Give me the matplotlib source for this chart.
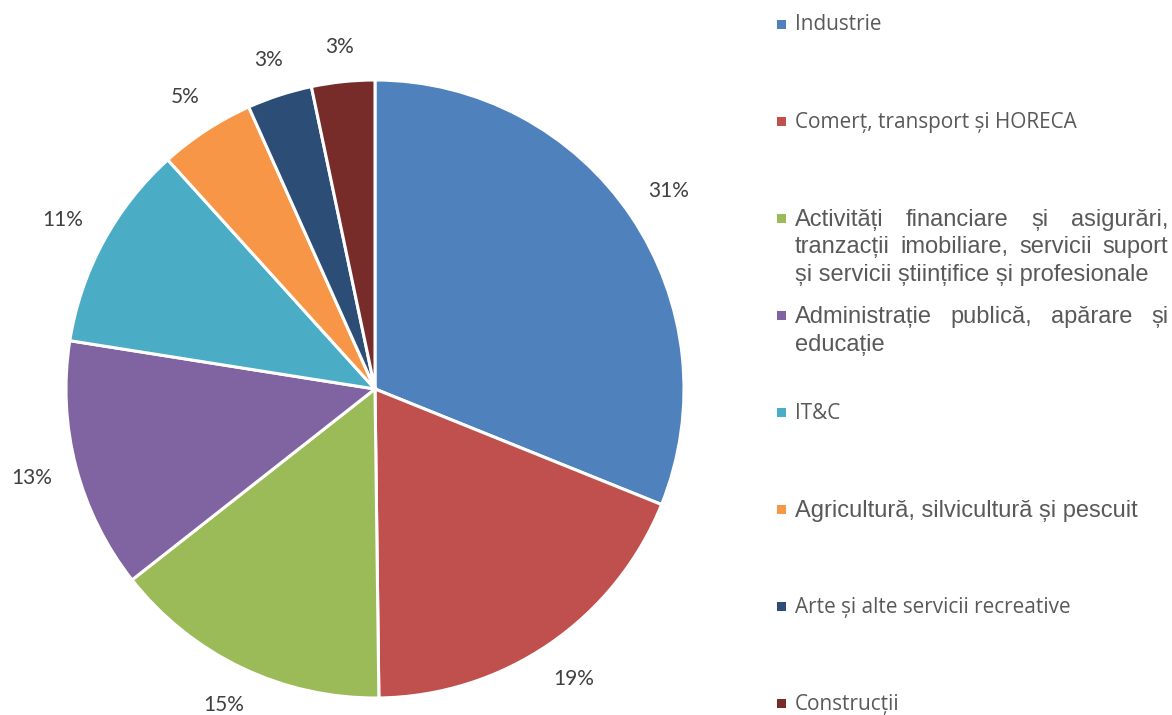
import matplotlib
matplotlib.use("Agg")
import matplotlib.pyplot as plt
from matplotlib.patches import Rectangle
import numpy as np

categories = [
    "Industrie",
    "Comerț, transport și HORECA",
    "Activități financiare și asigurări, tranzacții imobiliare, servicii suport și servicii științifice și profesionale",
    "Administrație publică, apărare și educație",
    "IT&C",
    "Agricultură, silvicultură și pescuit",
    "Arte și alte servicii recreative",
    "Construcții",
]
legend_lines = [
    ["Industrie"],
    ["Comerț, transport și HORECA"],
    ["Activități financiare și asigurări,", "tranzacții imobiliare, servicii suport", "și servicii științifice și profesionale"],
    ["Administrație publică, apărare și", "educație"],
    ["IT&C"],
    ["Agricultură, silvicultură și pescuit"],
    ["Arte și alte servicii recreative"],
    ["Construcții"],
]
legend_font = ["open", "open", "arial", "arial", "open", "arial", "open", "open"]
values = [31.1, 18.7, 14.6, 13.1, 10.8, 5.0, 3.4, 3.3]
colors = ["#4F81BD", "#C0504D", "#9BBB59", "#8064A2", "#4BACC6", "#F79646", "#2C4D75", "#772C2A"]

W, H = 1172, 715
fig = plt.figure(figsize=(W / 100, H / 100), dpi=100)
cx, cy, r = 375, 389, 309
ax = fig.add_axes([(cx - r) / W, (H - cy - r) / H, 2 * r / W, 2 * r / H])
wedges, texts, autotexts = ax.pie(
    values, colors=colors, startangle=90, counterclock=False, radius=1,
    autopct=lambda p: f"{p:.0f}%", pctdistance=1.15,
    wedgeprops=dict(edgecolor="white", linewidth=2.2),
    textprops=dict(fontsize=15, color="#404040", family=["Lato", "DejaVu Sans"]),
)
ax.set_xlim(-1, 1)
ax.set_ylim(-1, 1)
ax.set_aspect("equal")
ax.axis("off")

renderer = fig.canvas.get_renderer()
# place percentage labels outside the pie with a constant gap from the rim
gap = 23 / r
for w, t in zip(wedges, autotexts):
    ang = np.deg2rad((w.theta1 + w.theta2) / 2)
    bb = t.get_window_extent(renderer)
    hw, hh = bb.width / 2 / r, bb.height / 2 / r
    d = 1 + gap + hw * abs(np.cos(ang)) + hh * abs(np.sin(ang))
    t.set_position((d * np.cos(ang), d * np.sin(ang)))
    t.set_ha("center")
    t.set_va("center")

# legend (manual, justified)
tx0, tx1 = 795, 1168
mx = 777
row0, row_step, line_step = 23, 97.1, 27.8
tcol = "#595959"
fam_arial = ["Liberation Sans", "DejaVu Sans"]
fam_open = ["Open Sans", "DejaVu Sans"]
fs_arial = 17

# size of Open Sans so that the "Comerț..." line matches its width (282 px)
probe = fig.text(0, 0, legend_lines[1][0], fontsize=10, family=fam_open)
fs_open = 10 * 282 / probe.get_window_extent(renderer).width
probe.remove()

def px(x, y):
    return x / W, 1 - y / H

for i, lines in enumerate(legend_lines):
    y = row0 + i * row_step
    fam = fam_arial if legend_font[i] == "arial" else fam_open
    fs = fs_arial if legend_font[i] == "arial" else fs_open
    cap = 0.716 * fs * 100 / 72
    fig.patches.append(Rectangle(px(mx, y + 5.5), 9 / W, 9 / H, transform=fig.transFigure,
                                 facecolor=colors[i], edgecolor="none", figure=fig))
    for j, line in enumerate(lines):
        yy = y + j * line_step + cap / 2
        justify = len(lines) > 1 and j < len(lines) - 1
        if not justify:
            fig.text(*px(tx0, yy), line, fontsize=fs, color=tcol, family=fam, va="baseline", ha="left")
            continue
        words = line.split(" ")
        tobjs = [fig.text(0, 0, w, fontsize=fs, color=tcol, family=fam, va="baseline", ha="left") for w in words]
        widths = [t.get_window_extent(renderer).width for t in tobjs]
        g = (tx1 - tx0 - sum(widths)) / (len(words) - 1)
        x = tx0
        for t, wd in zip(tobjs, widths):
            t.set_position(px(x, yy))
            x += wd + g

fig.savefig("out.png", dpi=100, facecolor="white")
